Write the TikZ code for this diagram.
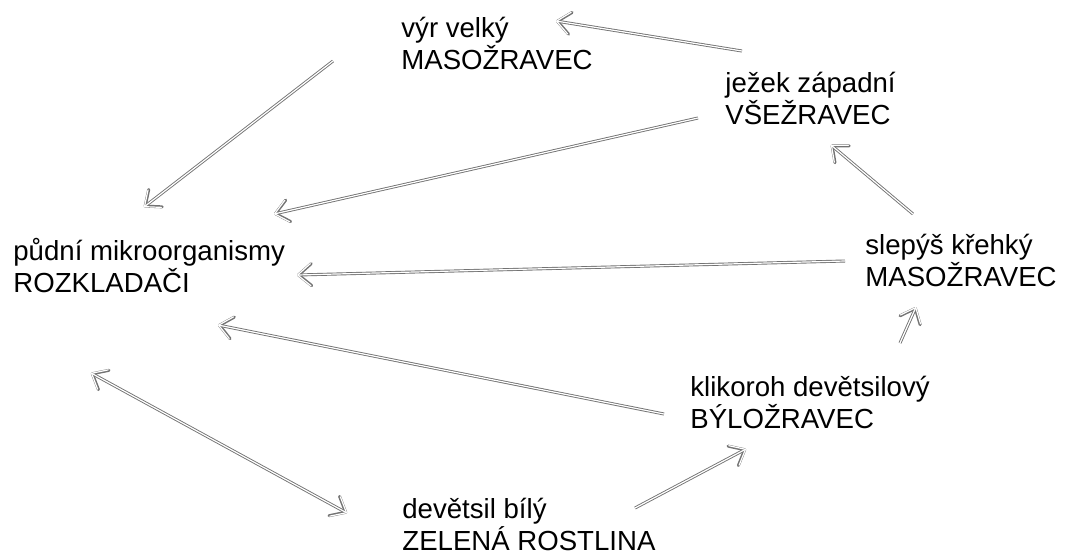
\documentclass[tikz,border=0pt]{standalone}
\usepackage{fontspec}
\setmainfont{Liberation Sans}
\usetikzlibrary{arrows.meta,calc}

\begin{document}
\begin{tikzpicture}[x=0.5pt,y=-0.5pt,
  >={Straight Barb[length=6.5pt,width=11pt,round]},
  organism/.style={anchor=base west,align=left,inner sep=0pt,
    font=\fontsize{13.8}{16}\selectfont},
  feeds/.style={draw=black!55,line width=1.5pt,
    postaction={draw=white,line width=0.6pt}}]
  \useasboundingbox (0,0) rectangle (1066,554);
  % ---- organisms (base = second line)
  \node[organism] (owl)    at (401,69)  {výr velký\\MASOŽRAVEC};
  \node[organism] (hedge)  at (725,124) {ježek západní\\VŠEŽRAVEC};
  \node[organism] (decomp) at (13,292)  {půdní mikroorganismy\\ROZKLADAČI};
  \node[organism] (slow)   at (865,286) {slepýš křehký\\MASOŽRAVEC};
  \node[organism] (beetle) at (690,428) {klikoroh devětsilový\\BÝLOŽRAVEC};
  \node[organism] (bur)    at (402,550) {devětsil bílý\\ZELENÁ ROSTLINA};
  % ---- food chain
  \draw[feeds,->] ($(owl.base west)+(-68,-8)$) -- ($(decomp.base west)+(131,-85)$);
  \draw[feeds,->] ($(hedge.base west)+(17,-73)$) -- ($(owl.base west)+(155,-48)$);
  \draw[feeds,->] ($(hedge.base west)+(-27,-6)$) -- ($(decomp.base west)+(261,-78)$);
  \draw[feeds,->] ($(slow.base west)+(48,-72)$) -- ($(hedge.base west)+(106,21)$);
  \draw[feeds,->] ($(slow.base west)+(-20,-25)$) -- ($(decomp.base west)+(284,-17)$);
  \draw[feeds,->] ($(beetle.base west)+(210,-85)$) -- ($(slow.base west)+(51,21)$);
  \draw[feeds,->] ($(beetle.base west)+(-26,-14)$) -- ($(decomp.base west)+(205,33)$);
  \draw[feeds,->] ($(bur.base west)+(233,-42)$) -- ($(beetle.base west)+(56,21)$);
  \draw[feeds,<->] ($(decomp.base west)+(78,81)$) -- ($(bur.base west)+(-55,-37)$);
\end{tikzpicture}
\end{document}
